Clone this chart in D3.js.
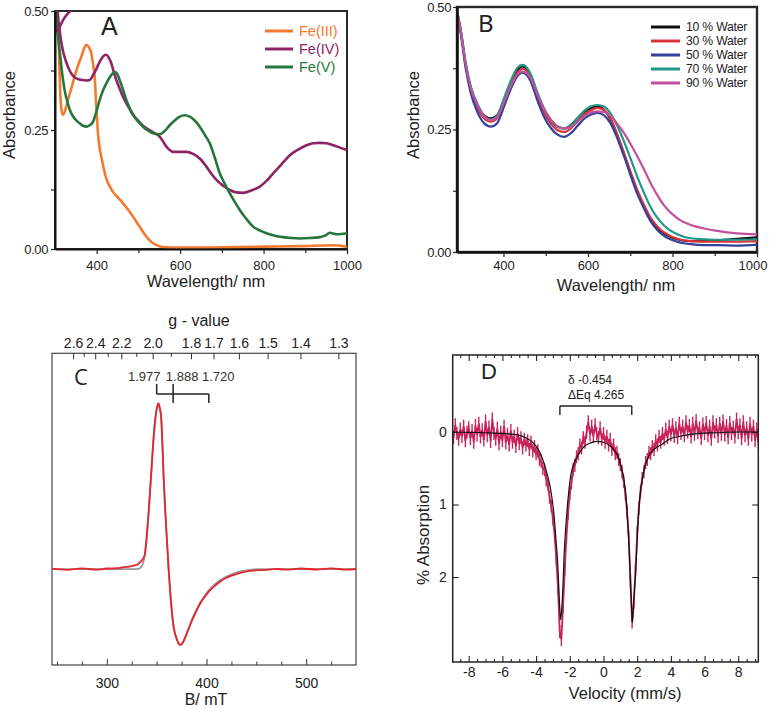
<!DOCTYPE html>
<html><head><meta charset="utf-8">
<script src="https://cdn.jsdelivr.net/npm/d3@7"></script>
<style>
body{margin:0;background:#fff}
svg{display:block;font-family:"Liberation Sans",Arial,Helvetica,sans-serif}
</style></head>
<body><svg id="c" width="769" height="709"></svg>
<script>
// ---------------- Panel A data (wavelength nm, absorbance) ----------------
const fe3 = [[304,0.56],[307,0.50],[310,0.40],[313,0.32],[316,0.29],[319,0.282],[324,0.29],[331,0.313],[340,0.34],[347,0.362],[355,0.385],[363,0.404],[370,0.422],[375,0.429],[381,0.424],[387,0.411],[391,0.39],[395,0.362],[399,0.30],[403,0.243],[407,0.212],[411,0.194],[417,0.168],[423,0.148],[431,0.132],[439,0.120],[451,0.108],[463,0.096],[475,0.083],[487,0.068],[499,0.052],[511,0.036],[523,0.022],[535,0.012],[550,0.006],[567,0.0036],[600,0.003],[647,0.003],[727,0.004],[807,0.005],[887,0.006],[967,0.008],[991,0.006],[1000,0.004]];
const fe4 = [[303,0.56],[306,0.50],[311,0.46],[318,0.42],[326,0.395],[335,0.375],[345,0.362],[355,0.357],[365,0.355],[375,0.354],[383,0.355],[391,0.365],[399,0.378],[407,0.393],[415,0.404],[422,0.408],[429,0.402],[435,0.39],[441,0.372],[447,0.355],[455,0.337],[463,0.32],[475,0.3],[487,0.282],[499,0.27],[511,0.259],[519,0.254],[535,0.245],[551,0.236],[559,0.226],[567,0.215],[575,0.208],[583,0.204],[599,0.204],[615,0.204],[631,0.2],[647,0.19],[663,0.173],[675,0.158],[687,0.145],[703,0.133],[719,0.124],[735,0.119],[751,0.118],[771,0.123],[791,0.131],[807,0.143],[823,0.159],[843,0.178],[863,0.197],[883,0.209],[903,0.218],[919,0.222],[935,0.223],[951,0.222],[967,0.218],[983,0.213],[1000,0.208]];
const fe4Top = [[306,0.455],[312,0.468],[320,0.482],[330,0.494],[340,0.502],[350,0.51]];
const fe5 = [[301,0.52],[303,0.481],[307,0.45],[311,0.418],[317,0.37],[323,0.334],[331,0.305],[339,0.285],[349,0.272],[359,0.264],[367,0.259],[375,0.257],[383,0.26],[391,0.267],[399,0.288],[407,0.313],[415,0.333],[423,0.348],[433,0.363],[443,0.372],[449,0.368],[455,0.355],[463,0.335],[471,0.313],[479,0.296],[487,0.282],[499,0.268],[511,0.257],[523,0.249],[535,0.243],[551,0.241],[563,0.248],[575,0.260],[587,0.270],[599,0.278],[611,0.281],[623,0.278],[635,0.27],[647,0.257],[659,0.24],[671,0.222],[683,0.192],[695,0.159],[707,0.137],[719,0.117],[731,0.099],[743,0.082],[759,0.063],[775,0.047],[791,0.039],[807,0.033],[827,0.028],[847,0.025],[867,0.023],[887,0.022],[911,0.023],[935,0.025],[950,0.029],[958,0.034],[975,0.031],[1000,0.033]];
const seriesA = [fe3, fe4, fe5];
const legendA = ["Fe(III)","Fe(IV)","Fe(V)"];
const colorsA = ["#f47a2e","#8e2466","#26773b"];
const xTicksA = [400,600,800,1000], xMinorA = [500,700,900];
const yTicksA = [0,0.25,0.5], yMinorA = [0.125,0.375];

// ---------------- Panel B data ----------------
const wlB = [291,300,310,322,338,354,370,385,401,417,433,445,464,480,496,512,527,543,559,575,591,606,622,638,654,669,685,701,717,733,748,764,780,811,843,875,906,953,1000];
const w10 = [0.487,0.445,0.385,0.337,0.300,0.279,0.273,0.279,0.310,0.344,0.371,0.379,0.361,0.323,0.290,0.269,0.256,0.252,0.259,0.273,0.286,0.293,0.297,0.290,0.270,0.238,0.200,0.160,0.123,0.093,0.068,0.050,0.038,0.026,0.022,0.022,0.024,0.027,0.030];
const w30 = [0.487,0.443,0.383,0.333,0.295,0.273,0.266,0.273,0.305,0.340,0.366,0.374,0.357,0.318,0.285,0.262,0.249,0.245,0.252,0.267,0.281,0.289,0.294,0.290,0.272,0.241,0.203,0.163,0.126,0.095,0.070,0.052,0.040,0.027,0.022,0.021,0.021,0.021,0.022];
const w50 = [0.487,0.440,0.378,0.326,0.286,0.263,0.256,0.263,0.296,0.332,0.359,0.366,0.349,0.310,0.276,0.253,0.240,0.235,0.242,0.257,0.272,0.280,0.284,0.279,0.262,0.233,0.196,0.156,0.118,0.088,0.063,0.045,0.033,0.021,0.016,0.014,0.014,0.013,0.015];
const w70 = [0.490,0.448,0.390,0.340,0.303,0.278,0.270,0.278,0.313,0.349,0.376,0.382,0.364,0.326,0.293,0.270,0.256,0.252,0.258,0.273,0.288,0.297,0.300,0.297,0.282,0.258,0.226,0.190,0.153,0.120,0.092,0.070,0.054,0.036,0.028,0.026,0.025,0.025,0.026];
const w90 = [0.487,0.445,0.385,0.336,0.300,0.277,0.269,0.275,0.305,0.338,0.362,0.368,0.355,0.322,0.292,0.270,0.257,0.252,0.255,0.265,0.277,0.284,0.287,0.286,0.277,0.262,0.243,0.220,0.195,0.168,0.141,0.116,0.095,0.069,0.055,0.048,0.043,0.038,0.036];
const seriesB = [w10,w30,w50,w70,w90];
const legendB = ["10 % Water","30 % Water","50 % Water","70 % Water","90 % Water"];
const colorsB = ["#111111","#d8343a","#33409c","#21988a","#c2509a"];
const xTicksB = [400,600,800,1000], xMinorB = [500,700,900];
const yTicksB = [0,0.25,0.5], yMinorB = [0.125,0.375];

// ---------------- Panel C data (B/mT, derivative intensity) ----------------
const expB = [245,260,275,290,300,310,317,322,327,331,334,336,338,340,341.5,343,345,346.5,348,349.8,351.8,353,354.5,356,357,358.5,360.5,362,364,365.5,367,369,370.6,372,374,376,379,382,385.7,390,394,399,404,409,414,420,427.5,435,444,452,461,470,480,495,510,525,540,550];
const expI = [0.003,-0.004,0.005,-0.003,0.004,0.006,0.012,0.016,0.021,0.03,0.046,0.06,0.086,0.197,0.31,0.438,0.62,0.759,0.87,0.958,1.0,0.975,0.918,0.72,0.556,0.37,0.157,0.0,-0.166,-0.27,-0.347,-0.40,-0.427,-0.447,-0.456,-0.445,-0.406,-0.36,-0.305,-0.25,-0.204,-0.16,-0.124,-0.097,-0.074,-0.052,-0.034,-0.02,-0.010,-0.006,-0.004,0.002,-0.003,0.004,-0.002,0.005,-0.003,0.001];
const simB = [245,300,325,332,334,336,338,340,341.5,343,345,346.5,348,349.8,351.8,353,354.5,356,357,358.5,360.5,362,364,365.5,367,369,370.6,372,374,376,379,382,385.7,390,394,399,404,409,414,420,427.5,435,444,452,470,550];
const simI = [0,0,0,0.002,0.01,0.03,0.08,0.19,0.30,0.43,0.61,0.75,0.86,0.95,0.99,0.97,0.91,0.71,0.55,0.36,0.15,0.0,-0.17,-0.27,-0.345,-0.40,-0.428,-0.448,-0.455,-0.444,-0.405,-0.358,-0.30,-0.245,-0.198,-0.152,-0.115,-0.088,-0.064,-0.045,-0.025,-0.012,-0.004,0,0,0];
const gMajor = [2.6,2.4,2.2,2.0,1.8,1.7,1.6,1.5,1.4,1.3];
const gMinor = [2.5,2.3,2.1,1.9];
const gMarks = [1.977,1.888,1.720];
const K = 692; // B(mT) = K / g
const bMajor = [300,400,500], bMinor = [250,275,325,350,375,425,450,475,525];

// ---------------- Panel D data (velocity mm/s, % absorption) ----------------
const velStart = -9.0, velStep = 0.1;
const absD = [
-0.05,0.08,-0.10,0.02,0.10,-0.04,0.06,-0.08,0.12,0.00,
-0.06,0.09,-0.02,0.14,-0.09,0.04,-0.12,0.07,-0.03,0.11,
-0.15,0.05,-0.07,0.13,-0.18,0.02,0.10,-0.05,0.16,0.00,
0.12,-0.08,0.15,0.03,0.18,-0.02,0.14,0.06,0.20,0.02,
0.16,0.08,0.22,0.10,0.18,0.12,0.24,0.14,0.26,0.20,
0.30,0.26,0.38,0.40,0.50,0.52,0.66,0.72,0.90,1.02,
1.20,1.42,1.75,2.15,2.75,2.86,2.40,1.90,1.45,1.12,
0.85,0.70,0.52,0.46,0.34,0.30,0.18,0.22,0.08,0.14,
0.00,-0.14,0.04,-0.08,0.06,-0.10,0.02,0.08,-0.06,0.10,
0.02,0.14,0.06,0.18,0.10,0.24,0.18,0.30,0.28,0.38,
0.45,0.55,0.68,0.85,1.10,1.45,2.05,2.62,2.35,1.90,
1.40,1.05,0.82,0.64,0.55,0.42,0.38,0.28,0.30,0.20,
0.24,0.12,0.18,0.06,0.14,0.02,0.10,-0.04,0.08,-0.08,
0.04,-0.10,0.06,-0.06,0.08,-0.12,0.02,-0.08,0.05,-0.14,
0.00,-0.09,0.07,-0.12,0.03,-0.16,0.01,-0.06,0.09,-0.11,
0.02,-0.13,0.05,-0.08,0.10,-0.14,0.00,-0.10,0.06,-0.12,
0.03,-0.15,0.04,-0.09,0.08,-0.13,0.02,-0.07,0.07,-0.18,
0.01,-0.10,0.09,-0.14,0.05,-0.06,0.10,-0.12,0.04,-0.08,
0.12,-0.04,0.15,0.02];
const fitV = [-9.0,-7,-6,-5.1,-4.6,-4.12,-3.8,-3.53,-3.3,-3.13,-2.93,-2.8,-2.74,-2.65,-2.59,-2.54,-2.48,-2.42,-2.34,-2.25,-2.15,-2.05,-1.95,-1.75,-1.55,-1.15,-0.76,-0.36,0.03,0.43,0.83,1.02,1.22,1.32,1.42,1.52,1.62,1.68,1.71,1.76,1.82,1.91,2.01,2.11,2.25,2.41,2.6,2.8,3.1,3.4,3.9,4.74,5.7,6.7,8,9.35];
const fitA = [0.0,0.01,0.02,0.04,0.08,0.16,0.27,0.43,0.62,0.8,1.16,1.55,1.72,2.15,2.45,2.59,2.45,2.2,1.72,1.35,1.04,0.8,0.61,0.43,0.34,0.2,0.15,0.13,0.145,0.2,0.32,0.45,0.66,0.85,1.16,1.6,2.17,2.5,2.63,2.5,2.25,1.94,1.45,1.03,0.72,0.52,0.38,0.29,0.22,0.18,0.1,0.05,0.02,0.01,0.0,0.0];
const isomerShift = -0.454, quadSplit = 4.265;
const vMajor = [-8,-6,-4,-2,0,2,4,6,8];
const vMinor = [-8.5,-7.5,-7,-6.5,-5.5,-5,-4.5,-3.5,-3,-2.5,-1.5,-1,-0.5,0.5,1,1.5,2.5,3,3.5,4.5,5,5.5,6.5,7,7.5,8.5,9];
const aTicks = [0,1,2];

// ======================================================================
const svg = d3.select("#c");
const defs = svg.append("defs");
function clip(id,x0,y0,x1,y1){
  defs.append("clipPath").attr("id",id).append("rect")
    .attr("x",x0).attr("y",y0).attr("width",x1-x0).attr("height",y1-y0);
}
function styleTicks(g, size, opts={}){
  g.selectAll("text").attr("font-size",size).attr("fill","#222")
    .attr("font-family",opts.family||null).attr("letter-spacing",opts.ls||null);
  g.selectAll("line").attr("stroke",opts.tick||"#222").attr("stroke-width",opts.tw||1.2);
  if(opts.noDomain) g.select(".domain").remove();
  else g.select(".domain").attr("stroke",opts.dc||"#111").attr("stroke-width",opts.dw||2);
}

// ---------------- Panel A ----------------
(function(){
  const x = d3.scaleLinear([300,1000],[55,347]);
  const y = d3.scaleLinear([0,0.5],[249,11]);
  clip("clipA",55,11,347,249);
  const g = svg.append("g");
  g.append("rect").attr("x",55).attr("y",11).attr("width",292).attr("height",238)
    .attr("fill","none").attr("stroke","#2a2a2a").attr("stroke-width",2);
  const line = d3.line().x(d=>x(d[0])).y(d=>y(d[1])).curve(d3.curveMonotoneX);
  const pa = g.append("g").attr("clip-path","url(#clipA)");
  pa.selectAll("path.s").data(seriesA).join("path").attr("class","s")
    .attr("d",line).attr("fill","none").attr("stroke",(d,i)=>colorsA[i])
    .attr("stroke-width",2.6).attr("stroke-linejoin","round");
  pa.append("path").attr("d",line(fe4Top)).attr("fill","none").attr("stroke",colorsA[1]).attr("stroke-width",2.6);
  const xa = g.append("g").attr("transform","translate(0,249)")
    .call(d3.axisBottom(x).tickValues(xTicksA).tickSize(5).tickSizeOuter(0).tickPadding(7).tickFormat(d3.format("d")));
  styleTicks(xa,13);
  const xm = g.append("g").attr("transform","translate(0,249)")
    .call(d3.axisBottom(x).tickValues(xMinorA).tickSize(4).tickFormat(""));
  styleTicks(xm,13,{noDomain:true});
  const ya = g.append("g").attr("transform","translate(55,0)")
    .call(d3.axisLeft(y).tickValues(yTicksA).tickSize(4).tickSizeOuter(0).tickPadding(3).tickFormat(d3.format(".2f")));
  styleTicks(ya,13,{ls:-0.4});
  const ym = g.append("g").attr("transform","translate(55,0)")
    .call(d3.axisLeft(y).tickValues(yMinorA).tickSize(4).tickFormat(""));
  styleTicks(ym,13,{noDomain:true});
  g.append("text").attr("x",206).attr("y",287).attr("text-anchor","middle").attr("font-size",16.5).attr("fill","#222").text("Wavelength/ nm");
  g.append("text").attr("transform","translate(15,115) rotate(-90)").attr("text-anchor","middle").attr("font-size",16.5).attr("fill","#222").text("Absorbance");
  g.append("text").attr("x",101).attr("y",35).attr("font-size",25).attr("fill","#222").text("A");
  const lg = g.append("g");
  const ly = [31,49,67];
  legendA.forEach((t,i)=>{
    lg.append("line").attr("x1",265).attr("x2",293).attr("y1",ly[i]).attr("y2",ly[i]).attr("stroke",colorsA[i]).attr("stroke-width",3);
    lg.append("text").attr("x",299).attr("y",ly[i]+5).attr("font-size",14.5).attr("fill",colorsA[i]).text(t);
  });
})();

// ---------------- Panel B ----------------
(function(){
  const x = d3.scaleLinear([290,1000],[457,757]);
  const y = d3.scaleLinear([0,0.5],[252,7]);
  clip("clipB",457,7,757,252);
  const g = svg.append("g");
  g.append("rect").attr("x",457).attr("y",7).attr("width",300).attr("height",245)
    .attr("fill","none").attr("stroke","#2a2a2a").attr("stroke-width",2.4);
  const line = d3.line().x((d,i)=>x(wlB[i])).y(d=>y(d)).curve(d3.curveMonotoneX);
  g.append("g").attr("clip-path","url(#clipB)").selectAll("path").data(seriesB).join("path")
    .attr("d",line).attr("fill","none").attr("stroke",(d,i)=>colorsB[i])
    .attr("stroke-width",2.2).attr("stroke-linejoin","round");
  const xa = g.append("g").attr("transform","translate(0,252)")
    .call(d3.axisBottom(x).tickValues(xTicksB).tickSize(5).tickSizeOuter(0).tickPadding(4).tickFormat(d3.format("d")));
  styleTicks(xa,13,{dw:2.5});
  xa.selectAll(".tick text").filter(d=>d===1000).attr("text-anchor","end").attr("dx",10);
  const xm = g.append("g").attr("transform","translate(0,252)")
    .call(d3.axisBottom(x).tickValues(xMinorB).tickSize(4).tickFormat(""));
  styleTicks(xm,13,{noDomain:true});
  const ya = g.append("g").attr("transform","translate(457,0)")
    .call(d3.axisLeft(y).tickValues(yTicksB).tickSize(4).tickSizeOuter(0).tickPadding(2).tickFormat(d3.format(".2f")));
  styleTicks(ya,13,{ls:-0.4,dw:2.5});
  const ym = g.append("g").attr("transform","translate(457,0)")
    .call(d3.axisLeft(y).tickValues(yMinorB).tickSize(4).tickFormat(""));
  styleTicks(ym,13,{noDomain:true});
  g.append("text").attr("x",616).attr("y",291).attr("text-anchor","middle").attr("font-size",16.5).attr("fill","#222").text("Wavelength/ nm");
  g.append("text").attr("transform","translate(419,115) rotate(-90)").attr("text-anchor","middle").attr("font-size",16.5).attr("fill","#222").text("Absorbance");
  g.append("text").attr("x",478).attr("y",32).attr("font-size",24).attr("font-family","'Noto Sans',sans-serif").attr("fill","#222").text("B");
  const ly = [27,41,55,69,83];
  legendB.forEach((t,i)=>{
    g.append("line").attr("x1",651).attr("x2",680).attr("y1",ly[i]).attr("y2",ly[i]).attr("stroke",colorsB[i]).attr("stroke-width",3);
    g.append("text").attr("x",686).attr("y",ly[i]+4.3).attr("font-size",12.2).attr("fill","#222").attr("letter-spacing",-0.2).text(t);
  });
})();

// ---------------- Panel C ----------------
(function(){
  const x = d3.scaleLinear([245,550],[52,356]);
  const y = d3.scaleLinear([-0.577,1.30],[665,353.3]);
  clip("clipC",52,353.3,356,665);
  const g = svg.append("g");
  g.append("rect").attr("x",52).attr("y",353.3).attr("width",304).attr("height",311.7)
    .attr("fill","none").attr("stroke","#444").attr("stroke-width",1.2);
  const pc = g.append("g").attr("clip-path","url(#clipC)");
  const simLine = d3.line().x((d,i)=>x(simB[i])).y(d=>y(d)).curve(d3.curveMonotoneX);
  const expLine = d3.line().x((d,i)=>x(expB[i])).y(d=>y(d)).curve(d3.curveMonotoneX);
  pc.append("path").attr("d",simLine(simI)).attr("fill","none").attr("stroke","#9a9a9a").attr("stroke-width",1.8);
  pc.append("path").attr("d",expLine(expI)).attr("fill","none").attr("stroke","#e3262b").attr("stroke-width",1.8);
  // bottom axis
  const xa = g.append("g").attr("transform","translate(0,665)")
    .call(d3.axisBottom(x).tickValues(bMajor).tickSizeInner(-6).tickSizeOuter(0).tickPadding(13).tickFormat(d3.format("d")));
  styleTicks(xa,14,{noDomain:true,tick:"#333",tw:1});
  const xm = g.append("g").attr("transform","translate(0,665)")
    .call(d3.axisBottom(x).tickValues(bMinor).tickSizeInner(-3.5).tickSizeOuter(0).tickFormat(""));
  styleTicks(xm,14,{noDomain:true,tick:"#333",tw:1});
  // top g-value axis
  const ta = g.append("g").attr("transform","translate(0,353.3)")
    .call(d3.axisTop(x).tickValues(gMajor.map(v=>K/v)).tickSizeInner(-6).tickSizeOuter(0).tickPadding(5)
      .tickFormat(d=>d3.format(".1f")(K/d)));
  styleTicks(ta,14,{noDomain:true,tick:"#333",tw:1});
  const tm = g.append("g").attr("transform","translate(0,353.3)")
    .call(d3.axisTop(x).tickValues(gMinor.map(v=>K/v)).tickSizeInner(-3.5).tickSizeOuter(0).tickFormat(""));
  styleTicks(tm,14,{noDomain:true,tick:"#333",tw:1});
  g.append("text").attr("x",199).attr("y",326).attr("text-anchor","middle").attr("font-size",16).attr("fill","#222").text("g - value");
  g.append("text").attr("x",206).attr("y",705).attr("text-anchor","middle").attr("font-size",16).attr("fill","#222").text("B/ mT");
  g.append("text").attr("x",74).attr("y",385).attr("font-size",22).attr("font-family","'Open Sans',sans-serif").attr("fill","#222").text("C");
  // g-marker bracket
  const gx = gMarks.map(v=>x(K/v));
  const br = g.append("g").attr("stroke","#222").attr("stroke-width",1.5).attr("fill","none");
  br.append("line").attr("x1",gx[0]).attr("x2",gx[2]).attr("y1",394).attr("y2",394);
  br.append("line").attr("x1",gx[0]).attr("x2",gx[0]).attr("y1",384).attr("y2",394);
  br.append("line").attr("x1",gx[1]).attr("x2",gx[1]).attr("y1",384).attr("y2",403);
  br.append("line").attr("x1",gx[2]).attr("x2",gx[2]).attr("y1",394).attr("y2",403);
  const offs = [-12.5,9,9.5];
  gMarks.forEach((v,i)=>{
    g.append("text").attr("x",gx[i]+offs[i]).attr("y",381).attr("text-anchor","middle")
      .attr("font-size",13).attr("font-family","'Liberation Sans Narrow','Liberation Sans',sans-serif")
      .attr("fill","#333").text(d3.format(".3f")(v));
  });
})();

// ---------------- Panel D ----------------
(function(){
  const x = d3.scaleLinear([-8.95,9.19],[452.7,758.3]);
  const y = d3.scaleLinear([-1.062,3.172],[355,662]);
  clip("clipD",452.7,355,758.3,662);
  const g = svg.append("g");
  const pd = g.append("g").attr("clip-path","url(#clipD)");
  const velD = absD.map((_,i)=>+(velStart+i*velStep).toFixed(2));
  const dataLine = d3.line().x((d,i)=>x(velD[i])).y(d=>y(d));
  pd.append("path").attr("d",dataLine(absD)).attr("fill","none").attr("stroke","#c8245c").attr("stroke-width",1.8);
  pd.selectAll("line.eb").data(absD).join("line").attr("class","eb")
    .attr("x1",(d,i)=>x(velD[i])).attr("x2",(d,i)=>x(velD[i]))
    .attr("y1",d=>y(d-0.09)).attr("y2",d=>y(d+0.09)).attr("stroke","#c8245c").attr("stroke-width",1.4);
  const fitLine = d3.line().x((d,i)=>x(fitV[i])).y(d=>y(d)).curve(d3.curveMonotoneX);
  pd.append("path").attr("d",fitLine(fitA)).attr("fill","none").attr("stroke","#111").attr("stroke-width",1.2);
  g.append("rect").attr("x",452.7).attr("y",355).attr("width",305.6).attr("height",307)
    .attr("fill","none").attr("stroke","#222").attr("stroke-width",1.5);
  const opt = {noDomain:true,tick:"#222",tw:1.1};
  const xa = g.append("g").attr("transform","translate(0,662)")
    .call(d3.axisBottom(x).tickValues(vMajor).tickSizeInner(-6).tickSizeOuter(0).tickPadding(5).tickFormat(d=>String(d)));
  styleTicks(xa,14,opt);
  styleTicks(g.append("g").attr("transform","translate(0,662)")
    .call(d3.axisBottom(x).tickValues(vMinor).tickSizeInner(-3).tickSizeOuter(0).tickFormat("")),14,opt);
  styleTicks(g.append("g").attr("transform","translate(0,355)")
    .call(d3.axisTop(x).tickValues(vMajor).tickSizeInner(-6).tickSizeOuter(0).tickFormat("")),14,opt);
  styleTicks(g.append("g").attr("transform","translate(0,355)")
    .call(d3.axisTop(x).tickValues(vMinor).tickSizeInner(-3).tickSizeOuter(0).tickFormat("")),14,opt);
  styleTicks(g.append("g").attr("transform","translate(452.7,0)")
    .call(d3.axisLeft(y).tickValues(aTicks).tickSizeInner(-6).tickSizeOuter(0).tickPadding(6).tickFormat(d3.format("d"))),14,opt);
  styleTicks(g.append("g").attr("transform","translate(758.3,0)")
    .call(d3.axisRight(y).tickValues(aTicks).tickSizeInner(-6).tickSizeOuter(0).tickFormat("")),14,opt);
  g.append("text").attr("x",625).attr("y",698.5).attr("text-anchor","middle").attr("font-size",16.5).attr("fill","#222").text("Velocity (mm/s)");
  g.append("text").attr("transform","translate(429,535) rotate(-90)").attr("text-anchor","middle").attr("font-size",17).attr("fill","#222").text("% Absorption");
  g.append("text").attr("x",481).attr("y",379).attr("font-size",22).attr("fill","#222").text("D");
  const bl = x(isomerShift-quadSplit/2), brx = x(isomerShift+quadSplit/2);
  const bk = g.append("g").attr("stroke","#222").attr("stroke-width",1.4).attr("fill","none");
  bk.append("line").attr("x1",bl).attr("x2",brx).attr("y1",406).attr("y2",406);
  bk.append("line").attr("x1",bl).attr("x2",bl).attr("y1",406).attr("y2",415);
  bk.append("line").attr("x1",brx).attr("x2",brx).attr("y1",406).attr("y2",415);
  g.append("text").attr("x",568).attr("y",384).attr("font-size",12).attr("fill","#222").text("\u03b4 " + isomerShift.toFixed(3));
  g.append("text").attr("x",568).attr("y",399).attr("font-size",12).attr("fill","#222").text("\u0394Eq " + quadSplit.toFixed(3));
})();
</script></body></html>
